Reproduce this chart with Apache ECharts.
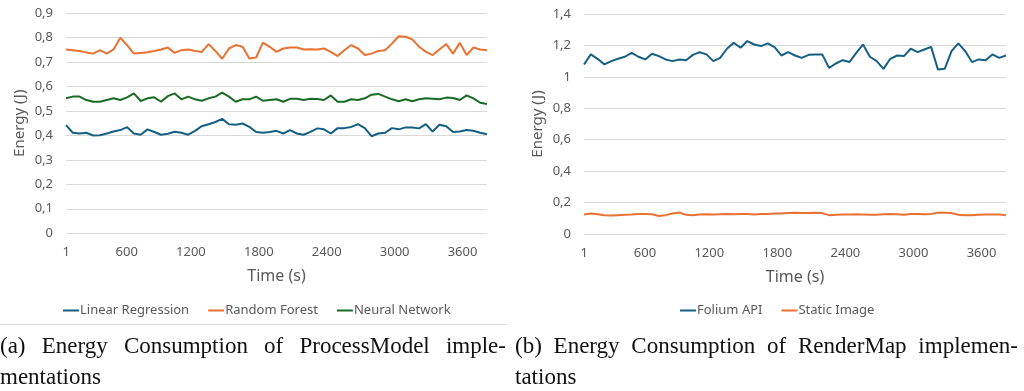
<!DOCTYPE html>
<html>
<head>
<meta charset="utf-8">
<script src="https://cdn.jsdelivr.net/npm/echarts@6/dist/echarts.min.js"></script>
<style>
  html, body { margin: 0; padding: 0; background: #fff; }
  #wrap { position: relative; width: 1024px; height: 391px; overflow: hidden; }
  #chart { position: absolute; left: 0; top: 0; width: 1024px; height: 391px; }
  .cap { position: absolute; font-family: "Liberation Serif", serif; font-size: 23px; line-height: 23px; color: #111; white-space: nowrap; }
  .just { text-align: justify; text-align-last: justify; white-space: normal; }
</style>
</head>
<body>
<div id="wrap">
  <div id="chart"></div>
  <div class="cap just" style="left:0; top:334px; width:506px;">(a) Energy Consumption of ProcessModel imple-</div>
  <div class="cap" style="left:0; top:365px;">mentations</div>
  <div class="cap just" style="left:515px; top:334px; width:503px;">(b) Energy Consumption of RenderMap implemen-</div>
  <div class="cap" style="left:515px; top:365px;">tations</div>
</div>
<script>
// time stamps (s), one sample per minute
const times = [1, 60, 120, 180, 240, 300, 360, 420, 480, 540,
  600, 660, 720, 780, 840, 900, 960, 1020, 1080, 1140,
  1200, 1260, 1320, 1380, 1440, 1500, 1560, 1620, 1680, 1740,
  1800, 1860, 1920, 1980, 2040, 2100, 2160, 2220, 2280, 2340,
  2400, 2460, 2520, 2580, 2640, 2700, 2760, 2820, 2880, 2940,
  3000, 3060, 3120, 3180, 3240, 3300, 3360, 3420, 3480, 3540,
  3600, 3660, 3720]

// (a) ProcessModel
const linearRegression = [0.442, 0.411, 0.408, 0.411, 0.400, 0.401, 0.408, 0.416, 0.422, 0.434,
  0.408, 0.403, 0.425, 0.414, 0.403, 0.407, 0.415, 0.411, 0.403, 0.419,
  0.438, 0.446, 0.455, 0.468, 0.446, 0.444, 0.449, 0.435, 0.414, 0.411,
  0.414, 0.419, 0.408, 0.422, 0.408, 0.403, 0.415, 0.429, 0.425, 0.408,
  0.430, 0.430, 0.435, 0.446, 0.430, 0.397, 0.408, 0.411, 0.430, 0.425,
  0.433, 0.433, 0.429, 0.446, 0.416, 0.444, 0.438, 0.414, 0.416, 0.422,
  0.419, 0.411, 0.405]
const randomForest = [0.752, 0.749, 0.746, 0.740, 0.735, 0.749, 0.735, 0.752, 0.800, 0.770,
  0.735, 0.738, 0.741, 0.746, 0.752, 0.760, 0.738, 0.749, 0.752, 0.746,
  0.742, 0.774, 0.746, 0.714, 0.756, 0.770, 0.763, 0.715, 0.719, 0.780,
  0.763, 0.742, 0.756, 0.760, 0.760, 0.752, 0.753, 0.752, 0.756, 0.742,
  0.725, 0.749, 0.770, 0.756, 0.729, 0.735, 0.746, 0.749, 0.776, 0.806,
  0.804, 0.793, 0.763, 0.742, 0.729, 0.752, 0.774, 0.735, 0.779, 0.729,
  0.760, 0.752, 0.749]
const neuralNetwork = [0.552, 0.559, 0.559, 0.545, 0.538, 0.538, 0.545, 0.552, 0.545, 0.556,
  0.572, 0.541, 0.552, 0.556, 0.538, 0.561, 0.572, 0.548, 0.559, 0.548,
  0.542, 0.552, 0.559, 0.575, 0.559, 0.538, 0.548, 0.548, 0.559, 0.542,
  0.545, 0.548, 0.538, 0.550, 0.550, 0.545, 0.550, 0.549, 0.545, 0.564,
  0.538, 0.538, 0.548, 0.545, 0.552, 0.567, 0.570, 0.559, 0.548, 0.540,
  0.548, 0.540, 0.548, 0.552, 0.550, 0.548, 0.555, 0.553, 0.545, 0.564,
  0.552, 0.534, 0.529]

// (b) RenderMap
const foliumApi = [1.079, 1.143, 1.115, 1.079, 1.100, 1.115, 1.128, 1.153, 1.128, 1.111,
  1.147, 1.132, 1.111, 1.100, 1.111, 1.106, 1.140, 1.157, 1.143, 1.100,
  1.121, 1.179, 1.217, 1.185, 1.228, 1.206, 1.196, 1.213, 1.189, 1.136,
  1.157, 1.136, 1.121, 1.140, 1.143, 1.143, 1.057, 1.085, 1.106, 1.094,
  1.153, 1.206, 1.128, 1.100, 1.051, 1.115, 1.136, 1.132, 1.179, 1.157,
  1.174, 1.191, 1.047, 1.051, 1.164, 1.213, 1.164, 1.094, 1.111, 1.106,
  1.143, 1.121, 1.136]
const staticImage = [0.124, 0.130, 0.126, 0.120, 0.117, 0.120, 0.122, 0.124, 0.128, 0.128,
  0.126, 0.115, 0.120, 0.130, 0.137, 0.122, 0.120, 0.124, 0.126, 0.124,
  0.126, 0.128, 0.126, 0.128, 0.128, 0.124, 0.128, 0.128, 0.130, 0.130,
  0.133, 0.135, 0.133, 0.133, 0.135, 0.133, 0.120, 0.122, 0.124, 0.124,
  0.126, 0.124, 0.122, 0.122, 0.126, 0.128, 0.126, 0.122, 0.128, 0.128,
  0.126, 0.128, 0.135, 0.135, 0.133, 0.122, 0.120, 0.120, 0.122, 0.124,
  0.124, 0.124, 0.120]

const BLUE = '#156082'
const ORANGE = '#E97132'
const GREEN = '#196B24'
const FONT = '"Noto Sans", sans-serif'
const GREY = '#595959'

const comma = v => String(v).replace('.', ',')

function xAxis(gridIndex) {
  return {
    type: 'category',
    gridIndex,
    data: times,
    boundaryGap: false,
    axisLine: { show: false },
    axisTick: { show: false },
    // Excel puts these labels a bit left of the tick, so hang them off the right edge
    axisLabel: { interval: 9, color: GREY, fontFamily: FONT, fontSize: 13, margin: 13,
      align: 'right', padding: [0, -4, 0, 0] },
    name: 'Time (s)',
    nameLocation: 'middle',
    nameGap: 35,
    nameTextStyle: { color: GREY, fontFamily: FONT, fontSize: 16 }
  }
}

function yAxis(gridIndex, max, interval) {
  return {
    type: 'value',
    gridIndex,
    min: 0,
    max,
    interval,
    axisLine: { show: false },
    axisTick: { show: false },
    splitLine: { lineStyle: { color: '#D9D9D9', width: 1 } },
    axisLabel: { color: GREY, fontFamily: FONT, fontSize: 13, margin: 13,
      formatter: v => comma(Math.round(v * 10) / 10) },
    name: 'Energy (J)',
    nameLocation: 'middle',
    nameGap: 39,
    nameTextStyle: { color: GREY, fontFamily: FONT, fontSize: 15 }
  }
}

function line(name, data, color, idx) {
  return {
    name, type: 'line', data,
    xAxisIndex: idx, yAxisIndex: idx,
    showSymbol: false, symbol: 'none',
    lineStyle: { color, width: 2 },
    itemStyle: { color },
    animation: false
  }
}

const legendBase = {
  icon: 'rect', itemWidth: 16, itemHeight: 2, itemGap: 19,
  textStyle: { color: GREY, fontFamily: FONT, fontSize: 13, padding: [0, 0, 0, -4] }
}

const option = {
  animation: false,
  grid: [
    { left: 66, right: 537, top: 13.3, bottom: 157.8 },
    { left: 584, right: 18, top: 14, bottom: 157 }
  ],
  xAxis: [xAxis(0), xAxis(1)],
  yAxis: [yAxis(0, 0.9, 0.1), yAxis(1, 1.4, 0.2)],
  legend: [
    Object.assign({}, legendBase, { left: 58, top: 299, data: ['Linear Regression', 'Random Forest', 'Neural Network'] }),
    Object.assign({}, legendBase, { left: 675, top: 299, data: ['Folium API', 'Static Image'] })
  ],
  graphic: [
    { type: 'line', shape: { x1: 0, y1: 324.5, x2: 507, y2: 324.5 }, style: { stroke: '#D9D9D9', lineWidth: 1 } }
  ],
  series: [
    line('Linear Regression', linearRegression, BLUE, 0),
    line('Random Forest', randomForest, ORANGE, 0),
    line('Neural Network', neuralNetwork, GREEN, 0),
    line('Folium API', foliumApi, BLUE, 1),
    line('Static Image', staticImage, ORANGE, 1)
  ]
}

const mychart = echarts.init(document.getElementById('chart'))
mychart.setOption(option)
</script>
</body>
</html>
